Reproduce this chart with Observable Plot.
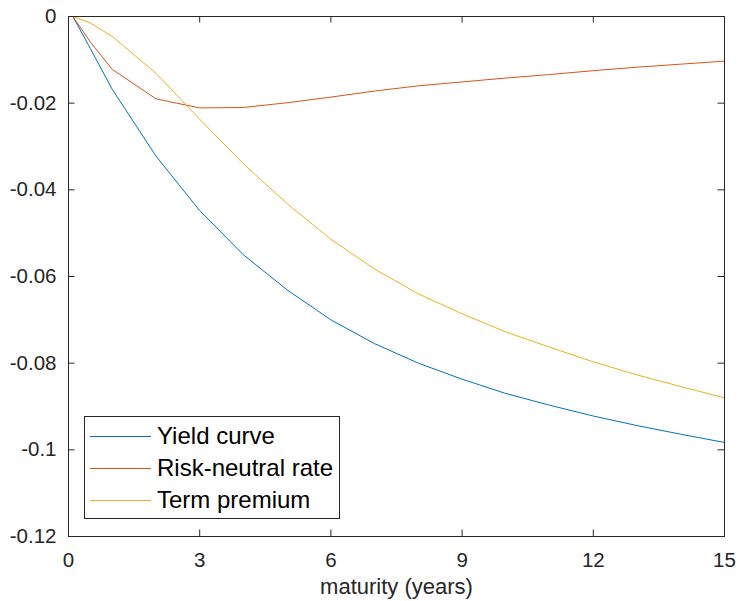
<!DOCTYPE html>
<html>
<head>
<meta charset="utf-8">
<script src="https://cdn.jsdelivr.net/npm/d3@7"></script>
<script src="https://cdn.jsdelivr.net/npm/@observablehq/plot@0.6"></script>
<style>
  html, body { margin: 0; padding: 0; background: #fff; }
  #wrap { position: relative; width: 739px; height: 601px; font-family: "Liberation Sans", Arial, Helvetica, sans-serif; }
  #legend { position: absolute; left: 84px; top: 416px; width: 256px; height: 103px; box-sizing: border-box; border: 1px solid #262626; background: #fff; }
  .row { position: absolute; left: 5px; height: 0; }
  .swatch { position: absolute; left: 0; top: -0.5px; width: 61px; border-top: 1px solid; }
  .lab { position: absolute; left: 67px; top: -14.5px; font-size: 24px; line-height: 28px; white-space: nowrap; color: #000; }
</style>
</head>
<body>
<div id="wrap"></div>
<script>
// ---- data ----
const maturity = [0.1, 0.5, 1, 2, 3, 4, 5, 6, 7, 8, 9, 10, 11, 12, 13, 14, 15];
const yieldCurve = [0, -0.0074, -0.0168, -0.0322, -0.0448, -0.0550, -0.0631, -0.0700, -0.0755, -0.0800, -0.0837, -0.0870, -0.0897, -0.0922, -0.0944, -0.0964, -0.0983];
const riskNeutral = [0, -0.0059, -0.0122, -0.0190, -0.0211, -0.0210, -0.0199, -0.0186, -0.0172, -0.0160, -0.0151, -0.0142, -0.0134, -0.0125, -0.0117, -0.0110, -0.0103];
const termPremium = [0, -0.0015, -0.0046, -0.0131, -0.0237, -0.0340, -0.0432, -0.0514, -0.0583, -0.0640, -0.0686, -0.0728, -0.0763, -0.0797, -0.0827, -0.0854, -0.0880];
const seriesNames = ["Yield curve", "Risk-neutral rate", "Term premium"];
const seriesColors = ["#0072BD", "#D95319", "#EDB120"];
const xTicks = [0, 3, 6, 9, 12, 15];
const yTicks = [0, -0.02, -0.04, -0.06, -0.08, -0.1, -0.12];
const yTickLabels = ["0", "-0.02", "-0.04", "-0.06", "-0.08", "-0.1", "-0.12"];
const xLabel = "maturity (years)";

// ---- build table ----
const seriesValues = [yieldCurve, riskNeutral, termPremium];
const rows = [];
seriesNames.forEach((name, s) => {
  maturity.forEach((m, i) => rows.push({series: name, x: m, y: seriesValues[s][i]}));
});

const W = 739, H = 601, mL = 68, mR = 15, mT = 16, mB = 65;
const innerW = W - mL - mR, innerH = H - mT - mB;
const tickLen = 6.5;
const axisColor = "#262626";
const font = '"Liberation Sans", Arial, Helvetica, sans-serif';

const chart = Plot.plot({
  width: W, height: H,
  marginLeft: mL, marginRight: mR, marginTop: mT, marginBottom: mB,
  style: {fontFamily: font, background: "#fff", color: axisColor},
  x: {domain: [0, 15]},
  y: {domain: [-0.12, 0]},
  color: {domain: seriesNames, range: seriesColors},
  marks: [
    Plot.line(rows, {x: "x", y: "y", z: "series", stroke: "series", strokeWidth: 1}),
    // inward ticks (box on all sides)
    Plot.ruleX(xTicks, {x: d => d, insetTop: innerH - tickLen, stroke: axisColor}),
    Plot.ruleX(xTicks, {x: d => d, insetBottom: innerH - tickLen, stroke: axisColor}),
    Plot.ruleY(yTicks, {y: d => d, insetRight: innerW - tickLen, stroke: axisColor}),
    Plot.ruleY(yTicks, {y: d => d, insetLeft: innerW - tickLen, stroke: axisColor}),
    Plot.frame({stroke: axisColor, strokeWidth: 1}),
    Plot.axisX({ticks: xTicks, tickSize: 0, tickPadding: 16, fontSize: 20.5, label: null, tickFormat: d => String(d)}),
    Plot.axisY({ticks: yTicks, tickSize: 0, tickPadding: 12, fontSize: 20.5, label: null,
      tickFormat: d => yTickLabels[yTicks.findIndex(t => Math.abs(t - d) < 1e-9)]}),
    Plot.text([xLabel], {text: d => d, frameAnchor: "bottom", dy: 57.5, lineAnchor: "bottom", fontSize: 22, fill: axisColor})
  ]
});

const wrap = document.getElementById("wrap");
wrap.appendChild(chart);

// legend (drawn as HTML over the axes, like MATLAB's legend box)
const legend = document.createElement("div");
legend.id = "legend";
const rowTops = [19, 51, 83];
seriesNames.forEach((name, i) => {
  const r = document.createElement("div");
  r.className = "row";
  r.style.top = rowTops[i] + "px";
  const sw = document.createElement("div");
  sw.className = "swatch";
  sw.style.borderTopColor = seriesColors[i];
  const t = document.createElement("div");
  t.className = "lab";
  t.textContent = name;
  r.appendChild(sw); r.appendChild(t);
  legend.appendChild(r);
});
wrap.appendChild(legend);
</script>
</body>
</html>
